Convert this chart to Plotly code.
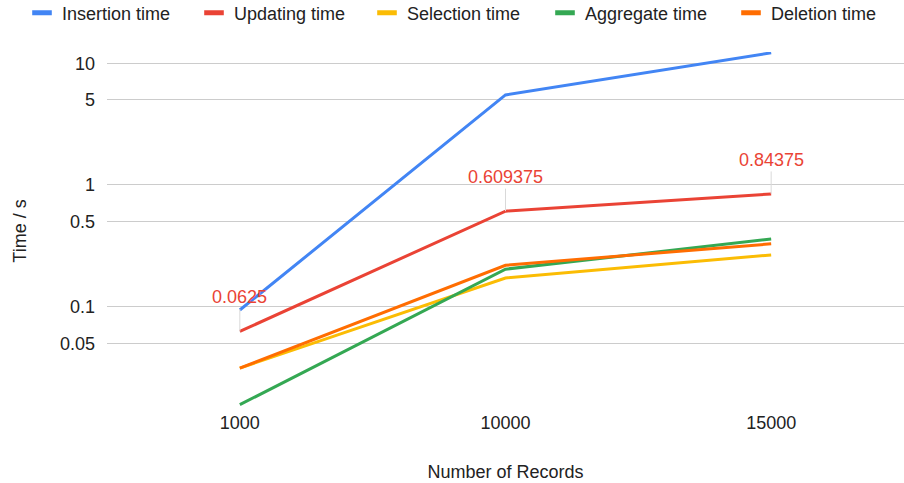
import numpy as np
import plotly.graph_objects as go

records = ["1000", "10000", "15000"]
insertion = [0.09375, 5.5, 12.2]
updating = [0.0625, 0.609375, 0.84375]
selection = [0.03125, 0.171875, 0.265625]
aggregate = [0.015625, 0.203125, 0.359375]
deletion = [0.03125, 0.21875, 0.328125]

series_names = ["Insertion time", "Updating time", "Selection time", "Aggregate time", "Deletion time"]
colors = ["#4285F4", "#EA4335", "#FBBC04", "#34A853", "#FF6D01"]
y_tickvals = [0.05, 0.1, 0.5, 1, 5, 10]
y_ticktext = ["0.05", "0.1", "0.5", "1", "5", "10"]

FONT = "Liberation Sans, Arial, sans-serif"
FS = 18
W, H = 904, 483
legend_left_px = [32, 204, 377, 555, 741]  # layout: left edge of each legend symbol

fig = go.Figure()
for name, vals, col in zip(series_names, [insertion, updating, selection, aggregate, deletion], colors):
    fig.add_trace(go.Scatter(x=records, y=vals, name=name, mode="lines",
                             line=dict(color=col, width=3), showlegend=False))

# legend entries drawn as short thick bars, one small legend per entry
legend_layout = {}
for k, (name, col, px) in enumerate(zip(series_names, colors, legend_left_px)):
    lid = "legend" if k == 0 else f"legend{k + 1}"
    fig.add_trace(go.Scatter(x=[None], y=[None], name=name, mode="markers", legend=lid,
                             marker=dict(symbol="line-ew", size=14,
                                         line=dict(color=col, width=5))))
    legend_layout[lid] = dict(orientation="h", x=(px - 10) / W, xanchor="left", xref="container",
                              y=1 - 13 / H, yanchor="middle", yref="container",
                              font=dict(size=FS, color="#222222"), bgcolor="rgba(0,0,0,0)")

for i, yv in enumerate(updating):
    fig.add_annotation(x=i, y=np.log10(yv), text=f"{yv:g}", showarrow=True,
                       arrowhead=0, arrowwidth=1, arrowcolor="#d9d9d9",
                       ax=0, ay=-34, font=dict(color="#EA4335", size=FS, family=FONT))

fig.update_layout(
    width=W, height=H,
    margin=dict(l=107, r=0, t=52, b=73, autoexpand=False),
    paper_bgcolor="white", plot_bgcolor="white",
    font=dict(family=FONT, size=FS, color="#222222"),
    xaxis=dict(type="category", showgrid=False, showline=False, zeroline=False,
               range=[-0.5, 2.5], ticks="", tickfont=dict(size=FS),
               title=dict(text="Number of Records", font=dict(size=FS), standoff=33)),
    yaxis=dict(type="log", range=[-1.85, 1.093], tickvals=y_tickvals, ticktext=y_ticktext,
               showgrid=True, gridcolor="#cccccc", gridwidth=1, showline=False, zeroline=False,
               ticks="", tickfont=dict(size=FS), ticklabelstandoff=11,
               title=dict(text="Time / s", font=dict(size=FS), standoff=28)),
    **legend_layout,
)

fig.write_html("out.html", config={"displayModeBar": False},
               post_script="document.body.style.margin='0px';")
